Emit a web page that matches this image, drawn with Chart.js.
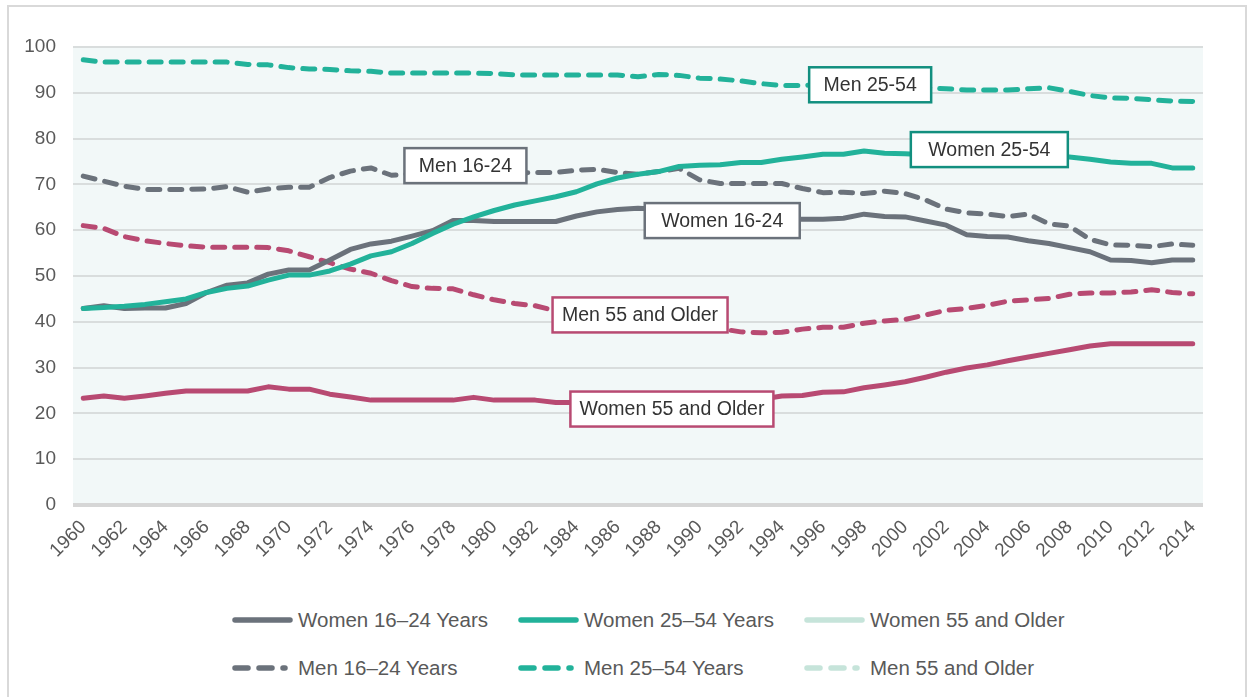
<!DOCTYPE html>
<html lang="en">
<head>
<meta charset="UTF-8">
<title>Labor Force Participation by Age and Sex, 1960–2014</title>
<script src="https://cdn.jsdelivr.net/npm/chart.js"></script>
<style>
    body {
        margin: 0;
        background: #fff;
        font-family: 'Liberation Sans', Arial, sans-serif;
    }
    .frame {
        position: absolute;
        left: 7px;
        top: 5px;
        width: 1236px;
        height: 720px;
        border: 2px solid #d9d9d9;
    }
    .chart-box {
        position: absolute;
        left: 0;
        top: 0;
        width: 1248px;
        height: 575px;
    }
    #legend {
        position: absolute;
        left: 232px;
        top: 606px;
        display: grid;
        grid-template-columns: 286px 286px 286px;
        row-gap: 21px;
    }
    .legend-item {
        display: flex;
        align-items: center;
        height: 27px;
        color: #595959;
        font-size: 20.5px;
    }
    .legend-item svg {
        width: 66px;
        height: 12px;
        flex: none;
    }
</style>
</head>
<body>
<div class="frame"></div>
<div class="chart-box">
    <canvas id="lfpChart" width="1248" height="575"></canvas>
</div>
<div id="legend"></div>

<script>
    // years 1960..2014 (participation rate, %)
    const years = [];
    for (let y = 1960; y <= 2014; y++) years.push(String(y));

    const women16to24 = [
        42.9, 43.5, 42.9, 43.0, 43.0, 44.0, 46.4, 48.0, 48.5, 50.4,
        51.3, 51.3, 53.5, 55.8, 57.0, 57.6, 58.7, 59.9, 62.1, 62.1,
        61.9, 61.9, 61.9, 61.9, 63.1, 64.0, 64.5, 64.8, 64.6, 64.4,
        63.1, 62.2, 62.3, 62.2, 62.4, 62.4, 62.4, 62.6, 63.5, 63.0,
        62.9, 62.0, 61.1, 59.0, 58.6, 58.5, 57.7, 57.1, 56.2, 55.3,
        53.5, 53.4, 52.9, 53.5, 53.5
    ];
    const women25to54 = [
        42.9, 43.1, 43.4, 43.8, 44.4, 45.0, 46.4, 47.3, 47.8, 49.1,
        50.2, 50.2, 51.1, 52.6, 54.4, 55.3, 57.1, 59.3, 61.3, 62.9,
        64.3, 65.5, 66.4, 67.3, 68.4, 70.1, 71.4, 72.2, 72.8, 73.9,
        74.2, 74.3, 74.8, 74.8, 75.5, 76.0, 76.6, 76.6, 77.3, 76.8,
        76.7, 76.5, 76.3, 76.2, 76.2, 76.3, 76.4, 76.4, 76.0, 75.5,
        74.9, 74.6, 74.6, 73.6, 73.6
    ];
    const women55plus = [
        23.3, 23.8, 23.3, 23.8, 24.4, 24.9, 24.9, 24.9, 24.9, 25.8,
        25.3, 25.3, 24.2, 23.6, 22.9, 22.9, 22.9, 22.9, 22.9, 23.5,
        22.9, 22.9, 22.9, 22.4, 22.4, 22.2, 22.3, 22.5, 22.6, 23.0,
        22.9, 22.6, 22.8, 23.1, 23.8, 23.9, 24.6, 24.7, 25.6, 26.2,
        26.9, 27.9, 29.0, 29.9, 30.6, 31.5, 32.3, 33.1, 33.9, 34.7,
        35.2, 35.2, 35.2, 35.2, 35.2
    ];
    const men16to24 = [
        71.8, 70.7, 69.6, 68.9, 68.9, 68.9, 69.0, 69.5, 68.3, 69.0,
        69.4, 69.4, 71.5, 72.9, 73.6, 72.0, 72.3, 72.6, 72.9, 73.0,
        72.6, 72.5, 72.6, 72.6, 73.1, 73.3, 72.6, 72.2, 72.8, 73.5,
        71.0, 70.2, 70.2, 70.2, 70.2, 69.1, 68.2, 68.3, 68.0, 68.5,
        68.0, 66.6, 64.6, 63.8, 63.5, 63.0, 63.5, 61.4, 60.9, 58.0,
        56.8, 56.7, 56.4, 57.0, 56.7
    ];
    const men25to54 = [
        97.2, 96.7, 96.7, 96.7, 96.7, 96.7, 96.7, 96.7, 96.2, 96.1,
        95.5, 95.2, 95.1, 94.8, 94.7, 94.3, 94.3, 94.3, 94.3, 94.3,
        94.2, 93.9, 93.9, 93.9, 93.9, 93.9, 93.9, 93.5, 94.0, 93.8,
        93.2, 93.0, 92.6, 92.0, 91.6, 91.6, 91.7, 91.8, 91.8, 91.6,
        91.4, 91.1, 90.9, 90.6, 90.6, 90.6, 90.9, 91.1, 90.3, 89.4,
        88.9, 88.8, 88.5, 88.2, 88.1
    ];
    const men55plus = [
        61.0, 60.4, 58.6, 57.7, 57.1, 56.6, 56.3, 56.3, 56.3, 56.2,
        55.5, 54.2, 52.9, 51.5, 50.6, 49.0, 47.7, 47.3, 47.2, 45.9,
        44.8, 44.0, 43.5, 42.4, 41.8, 41.0, 40.4, 40.4, 39.9, 39.6,
        39.4, 38.5, 37.8, 37.6, 37.7, 38.4, 38.8, 38.8, 39.7, 40.2,
        40.5, 41.5, 42.5, 42.9, 43.6, 44.5, 44.8, 45.1, 46.0, 46.3,
        46.3, 46.5, 47.0, 46.4, 46.1
    ];

    const GREY = '#6b727b';
    const TEAL = '#22b29a';
    const MAROON = '#b84a72';
    const MINT = '#c6e4da';
    const DASH = [12, 10];

    // boxed labels on the plot, placed in data coordinates
    const callouts = [
        { text: 'Men 16-24', year: 1978.6, value: 74.1, width: 122, color: GREY },
        { text: 'Women 16-24', year: 1991.1, value: 62.1, width: 155, color: GREY },
        { text: 'Men 25-54', year: 1998.3, value: 91.75, width: 122, color: '#128f7f' },
        { text: 'Women 25-54', year: 2004.1, value: 77.6, width: 157, color: '#128f7f' },
        { text: 'Men 55 and Older', year: 1987.1, value: 41.5, width: 175, color: MAROON },
        { text: 'Women 55 and Older', year: 1988.65, value: 20.95, width: 203, color: MAROON }
    ];

    function series(label, data, color, dashed, legendColor, order) {
        return {
            label: label,
            data: data,
            borderColor: color,
            backgroundColor: color,
            borderWidth: 5,
            borderDash: dashed ? DASH : [],
            borderCapStyle: 'round',
            borderJoinStyle: 'round',
            pointRadius: 0,
            pointHoverRadius: 0,
            tension: 0,
            fill: false,
            order: order,
            legendColor: legendColor,
            dashed: dashed
        };
    }

    const plotBackground = {
        id: 'plotBackground',
        beforeDraw(chart) {
            const a = chart.chartArea;
            const ctx = chart.ctx;
            ctx.save();
            ctx.fillStyle = '#f2f8f8';
            ctx.fillRect(a.left, a.top, a.right - a.left, a.bottom - a.top);
            ctx.restore();
        }
    };

    const calloutBoxes = {
        id: 'calloutBoxes',
        afterDatasetsDraw(chart) {
            const ctx = chart.ctx;
            const xs = chart.scales.x;
            const ys = chart.scales.y;
            ctx.save();
            ctx.font = '19.5px "Liberation Sans", Arial, sans-serif';
            ctx.textAlign = 'center';
            ctx.textBaseline = 'middle';
            callouts.forEach(c => {
                const cx = xs.getPixelForValue(c.year - 1960);
                const cy = ys.getPixelForValue(c.value);
                const h = 35;
                ctx.fillStyle = '#fff';
                ctx.fillRect(cx - c.width / 2, cy - h / 2, c.width, h);
                ctx.lineWidth = 2.5;
                ctx.strokeStyle = c.color;
                ctx.strokeRect(cx - c.width / 2, cy - h / 2, c.width, h);
                ctx.fillStyle = '#333';
                ctx.fillText(c.text, cx, cy + 1);
            });
            ctx.restore();
        }
    };

    const chart = new Chart(document.getElementById('lfpChart'), {
        type: 'line',
        data: {
            labels: years,
            datasets: [
                series('Women 16–24 Years', women16to24, GREY, false, GREY, 2),
                series('Women 25–54 Years', women25to54, TEAL, false, TEAL, 0),
                series('Women 55 and Older', women55plus, MAROON, false, MINT, 3),
                series('Men 16–24 Years', men16to24, GREY, true, GREY, 1),
                series('Men 25–54 Years', men25to54, TEAL, true, TEAL, 4),
                series('Men 55 and Older', men55plus, MAROON, true, MINT, 5)
            ]
        },
        options: {
            responsive: false,
            animation: false,
            layout: { padding: { top: 47, right: 45, bottom: 0, left: 0 } },
            plugins: {
                legend: { display: false },
                tooltip: { enabled: false }
            },
            scales: {
                x: {
                    offset: true,
                    grid: { display: false },
                    border: { display: false },
                    ticks: {
                        autoSkip: false,
                        minRotation: 45,
                        maxRotation: 45,
                        padding: 3,
                        color: '#595959',
                        font: { family: "'Liberation Sans', Arial, sans-serif", size: 19 },
                        callback: function(value, index) {
                            return index % 2 === 0 ? this.getLabelForValue(value) : '';
                        }
                    },
                    afterFit: scale => { scale.height = 70; }
                },
                y: {
                    min: 0,
                    max: 100,
                    border: { display: false },
                    grid: {
                        drawTicks: false,
                        color: ctx => ctx.tick && ctx.tick.value === 0 ? '#d6d6d6' : '#d9dddd',
                        lineWidth: ctx => ctx.tick && ctx.tick.value === 0 ? 4 : 2
                    },
                    ticks: {
                        stepSize: 10,
                        padding: 17,
                        color: '#595959',
                        font: { family: "'Liberation Sans', Arial, sans-serif", size: 19 }
                    },
                    afterFit: scale => { scale.width = 73; }
                }
            }
        },
        plugins: [plotBackground, calloutBoxes]
    });

    // legend laid out in three columns, like the original
    const legend = document.getElementById('legend');
    chart.data.datasets.forEach(ds => {
        const item = document.createElement('div');
        item.className = 'legend-item';
        const dash = ds.dashed ? ' stroke-dasharray="13 11"' : '';
        item.innerHTML =
            '<svg viewBox="0 0 66 12"><line x1="3" y1="6" x2="' + (ds.dashed ? 53 : 58) +
            '" y2="6" stroke="' + ds.legendColor + '" stroke-width="5.5" stroke-linecap="round"' + dash + '/></svg>' +
            '<span>' + ds.label + '</span>';
        legend.appendChild(item);
    });
</script>
</body>
</html>
